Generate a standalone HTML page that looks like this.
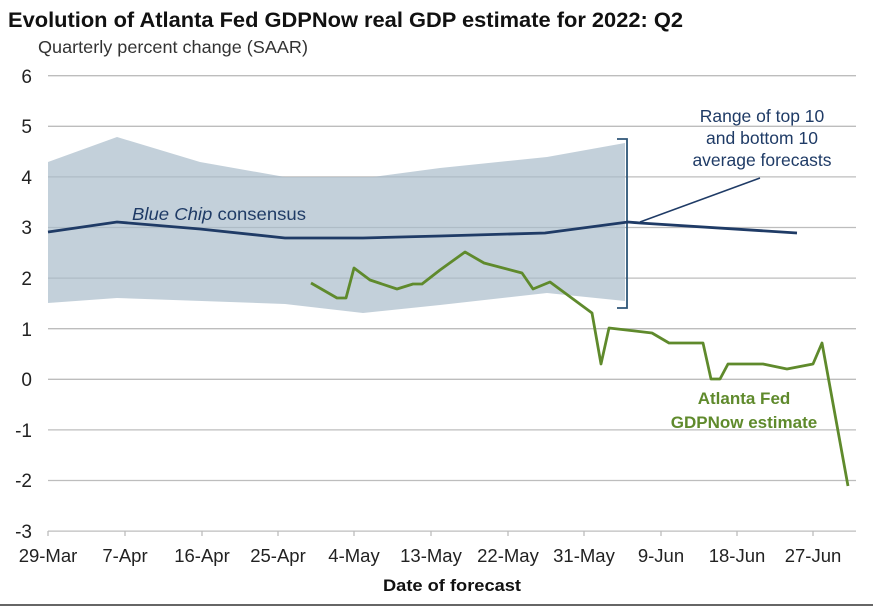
<!DOCTYPE html>
<html><head><meta charset="utf-8"><style>
body{margin:0;background:#fff;}
svg{display:block;font-family:"Liberation Sans",Arial,sans-serif;}
</style></head><body>
<svg width="873" height="607" viewBox="0 0 873 607">
<rect width="873" height="607" fill="#fff"/>
<text x="8" y="27" font-size="21" font-weight="bold" fill="#111" textLength="675" lengthAdjust="spacingAndGlyphs">Evolution of Atlanta Fed GDPNow real GDP estimate for 2022: Q2</text>
<text x="38" y="53" font-size="17.5" fill="#333" textLength="270" lengthAdjust="spacingAndGlyphs">Quarterly percent change (SAAR)</text>
<g stroke="#bdbdbd" stroke-width="1.3">
<line x1="48" x2="856" y1="75.7" y2="75.7"/><line x1="48" x2="856" y1="126.3" y2="126.3"/>
<line x1="48" x2="856" y1="176.9" y2="176.9"/><line x1="48" x2="856" y1="227.5" y2="227.5"/>
<line x1="48" x2="856" y1="278.1" y2="278.1"/><line x1="48" x2="856" y1="328.7" y2="328.7"/>
<line x1="48" x2="856" y1="379.3" y2="379.3"/><line x1="48" x2="856" y1="429.9" y2="429.9"/>
<line x1="48" x2="856" y1="480.5" y2="480.5"/><line x1="48" x2="856" y1="531.1" y2="531.1"/>
</g>
<g stroke="#bdbdbd" stroke-width="1.3">
<line x1="48" x2="48" y1="531" y2="536"/><line x1="125" x2="125" y1="531" y2="536"/>
<line x1="202" x2="202" y1="531" y2="536"/><line x1="278" x2="278" y1="531" y2="536"/>
<line x1="354" x2="354" y1="531" y2="536"/><line x1="431" x2="431" y1="531" y2="536"/>
<line x1="508" x2="508" y1="531" y2="536"/><line x1="584" x2="584" y1="531" y2="536"/>
<line x1="661" x2="661" y1="531" y2="536"/><line x1="737" x2="737" y1="531" y2="536"/>
<line x1="813" x2="813" y1="531" y2="536"/>
</g>
<polygon fill="#a9bccb" fill-opacity="0.7" points="48,162 117,137 200,162 285,177 373,177 440,168 547,157 625,143 625,301 547,293 440,305 363,313 285,304 117,298 48,303"/>
<path d="M617,139 L627,139 L627,308 L617,308" fill="none" stroke="#2e5577" stroke-width="1.8"/>
<line x1="640" y1="222" x2="760" y2="178" stroke="#1f3b66" stroke-width="1.5"/>
<polyline fill="none" stroke="#1f3b66" stroke-width="2.8" points="48,232 117,222 200,229 285,238 363,238 440,236 545,233 628,222 640,223 797,233"/>
<polyline fill="none" stroke="#5f8a2c" stroke-width="2.8" stroke-linejoin="round" points="311,283 337,298 346,298 354,268 370,280 397,289 413,284 422,284 440,270 465,252 484,263 522,273 533,289 550,282 592,313 601,364 609,328 652,333 669,343 703,343 711,379 720,379 728,364 763,364 787,369 813,364 822,343 848,486"/>
<text x="132" y="220" font-size="17.5" fill="#1f3b66" textLength="174" lengthAdjust="spacingAndGlyphs"><tspan font-style="italic">Blue Chip</tspan> consensus</text>
<g font-size="17.5" fill="#1f3b66" text-anchor="middle">
<text x="762" y="122">Range of top 10</text>
<text x="762" y="144">and bottom 10</text>
<text x="762" y="166">average forecasts</text>
</g>
<g font-size="17" fill="#5f8a2c" font-weight="bold" text-anchor="middle">
<text x="744" y="404">Atlanta Fed</text>
<text x="744" y="428">GDPNow estimate</text>
</g>
<g font-size="19" fill="#222" text-anchor="end">
<text x="32" y="83">6</text><text x="32" y="133">5</text><text x="32" y="184">4</text>
<text x="32" y="234">3</text><text x="32" y="285">2</text><text x="32" y="336">1</text>
<text x="32" y="386">0</text><text x="32" y="437">-1</text><text x="32" y="487">-2</text>
<text x="32" y="538">-3</text>
</g>
<g font-size="18.5" fill="#222" text-anchor="middle">
<text x="48" y="562">29-Mar</text><text x="125" y="562">7-Apr</text><text x="202" y="562">16-Apr</text>
<text x="278" y="562">25-Apr</text><text x="354" y="562">4-May</text><text x="431" y="562">13-May</text>
<text x="508" y="562">22-May</text><text x="584" y="562">31-May</text><text x="661" y="562">9-Jun</text>
<text x="737" y="562">18-Jun</text><text x="813" y="562">27-Jun</text>
</g>
<text x="452" y="591" font-size="17" font-weight="bold" fill="#111" text-anchor="middle" textLength="138" lengthAdjust="spacingAndGlyphs">Date of forecast</text>
<line x1="0" x2="873" y1="605" y2="605" stroke="#666" stroke-width="2"/>
</svg>
</body></html>
